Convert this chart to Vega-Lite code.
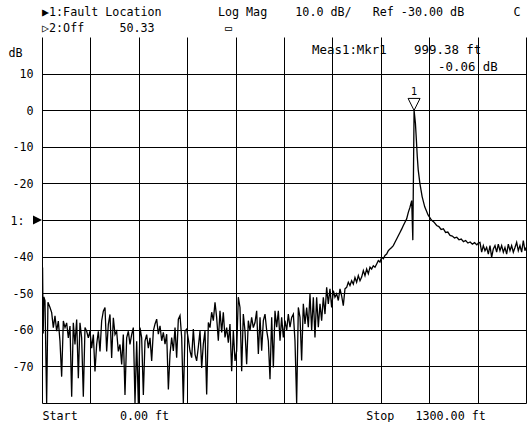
{
  "$schema": "https://vega.github.io/schema/vega-lite/v6.json",
  "width": 484,
  "height": 366,
  "autosize": {"type": "none"},
  "padding": {"left": 42, "top": 37, "right": 1, "bottom": 19},
  "background": "white",
  "config": {"view": {"stroke": null}, "font": "DejaVu Sans Mono"},
  "title": {
    "text": ["▶1:Fault\u00a0Location\u00a0\u00a0\u00a0\u00a0\u00a0\u00a0\u00a0\u00a0Log\u00a0Mag\u00a0\u00a0\u00a0\u00a010.0\u00a0dB/\u00a0\u00a0\u00a0Ref\u00a0-30.00\u00a0dB\u00a0\u00a0\u00a0\u00a0\u00a0\u00a0\u00a0C", "▷2:Off\u00a0\u00a0\u00a0\u00a0\u00a050.33\u00a0\u00a0\u00a0\u00a0\u00a0\u00a0\u00a0\u00a0\u00a0\u00a0▭"],
    "anchor": "start",
    "frame": "group",
    "font": "DejaVu Sans Mono",
    "fontSize": 11.7,
    "fontWeight": "normal",
    "color": "#000",
    "lineHeight": 16,
    "offset": 2
  },
  "datasets": {
    "trace": [
      {"ft":0,"db":-47},{"ft":1.5,"db":-43},{"ft":3.2,"db":-61},{"ft":5,"db":-51},{"ft":8,"db":-52},{"ft":12.5,"db":-80},{"ft":16,"db":-52.5},{"ft":21.5,"db":-53.9},{"ft":26,"db":-55.3},{"ft":30.4,"db":-59.4},{"ft":34.9,"db":-56.2},{"ft":39.4,"db":-60.4},{"ft":43.8,"db":-57.6},{"ft":48.3,"db":-63.1},{"ft":52.8,"db":-72.8},{"ft":57.3,"db":-57.6},{"ft":61.8,"db":-59.4},{"ft":66.2,"db":-58.1},{"ft":70.7,"db":-62.2},{"ft":75.2,"db":-59.0},{"ft":79.7,"db":-78.3},{"ft":84.1,"db":-58.1},{"ft":88.6,"db":-64.0},{"ft":93.1,"db":-57.2},{"ft":97.6,"db":-73.2},{"ft":102,"db":-58.1},{"ft":106.5,"db":-62.2},{"ft":111,"db":-78.3},{"ft":115.5,"db":-59.4},{"ft":120,"db":-60.4},{"ft":124.4,"db":-62.2},{"ft":128.9,"db":-60.4},{"ft":133.4,"db":-65.0},{"ft":137.9,"db":-61.3},{"ft":142.3,"db":-71.4},{"ft":146.8,"db":-64.0},{"ft":151.3,"db":-60.4},{"ft":155.8,"db":-65.9},{"ft":160.2,"db":-57.6},{"ft":164.7,"db":-54.9},{"ft":169.2,"db":-53.9},{"ft":173.7,"db":-65.9},{"ft":178.2,"db":-58.5},{"ft":182.6,"db":-55.8},{"ft":187.1,"db":-67.7},{"ft":191.6,"db":-56.7},{"ft":196.1,"db":-61.3},{"ft":200.5,"db":-60.4},{"ft":205,"db":-65.9},{"ft":209.5,"db":-64.0},{"ft":214,"db":-69.5},{"ft":218.4,"db":-61.3},{"ft":222.9,"db":-77.8},{"ft":227.4,"db":-62.2},{"ft":231.9,"db":-60.4},{"ft":236.3,"db":-64.0},{"ft":240.8,"db":-61.3},{"ft":245.3,"db":-59.4},{"ft":249.8,"db":-80},{"ft":254.3,"db":-63.1},{"ft":258.7,"db":-80},{"ft":263.2,"db":-59.4},{"ft":267.7,"db":-62.2},{"ft":272.2,"db":-77.8},{"ft":276.6,"db":-63.1},{"ft":281.1,"db":-61.3},{"ft":285.6,"db":-65.0},{"ft":290.1,"db":-62.2},
      {"ft":294.6,"db":-68.5},{"ft":299.1,"db":-60.3},{"ft":303.6,"db":-58.4},{"ft":308,"db":-57.1},{"ft":312.5,"db":-61.2},{"ft":317,"db":-58.9},{"ft":321.5,"db":-63.0},{"ft":325.9,"db":-60.7},{"ft":330.4,"db":-63.9},{"ft":334.9,"db":-61.2},{"ft":339.4,"db":-76.3},{"ft":343.8,"db":-66.7},{"ft":348.3,"db":-62.1},{"ft":352.8,"db":-65.8},{"ft":357.3,"db":-59.4},{"ft":361.7,"db":-67.6},{"ft":366.2,"db":-57.1},{"ft":370.7,"db":-56.1},{"ft":375.2,"db":-62.1},{"ft":379.6,"db":-80},{"ft":384.1,"db":-60.3},{"ft":388.6,"db":-59.8},{"ft":393.1,"db":-62.6},{"ft":397.5,"db":-65.8},{"ft":402,"db":-67.6},{"ft":406.5,"db":-59.8},{"ft":411,"db":-66.7},{"ft":415.4,"db":-68.5},{"ft":419.9,"db":-64.7},{"ft":424.4,"db":-60.3},{"ft":428.9,"db":-70.4},{"ft":433.3,"db":-63.9},{"ft":437.8,"db":-60.3},{"ft":442.3,"db":-77.7},{"ft":446.8,"db":-58.0},{"ft":451.2,"db":-59.4},{"ft":455.7,"db":-55.2},{"ft":460.2,"db":-57.5},{"ft":464.7,"db":-52.5},{"ft":469.1,"db":-56.6},{"ft":473.6,"db":-63.0},{"ft":478.1,"db":-54.8},{"ft":482.6,"db":-60.7},{"ft":487,"db":-55.2},{"ft":491.5,"db":-62.1},{"ft":496,"db":-59.4},{"ft":500.5,"db":-63.5},{"ft":504.9,"db":-58.4},{"ft":509.4,"db":-71.3},{"ft":513.9,"db":-60.3},{"ft":518.4,"db":-68.5},{"ft":522.8,"db":-65.8},{"ft":527.3,"db":-51.1},{"ft":531.8,"db":-53.9},{"ft":536.3,"db":-71.3},{"ft":540.7,"db":-55.7},{"ft":545.2,"db":-60.3},{"ft":549.7,"db":-69.4},{"ft":554.2,"db":-57.5},{"ft":558.6,"db":-60.3},{"ft":563.1,"db":-56.6},{"ft":567.6,"db":-59.4},{"ft":572.1,"db":-58.0},
      {"ft":576.6,"db":-54.8},{"ft":581.1,"db":-66.6},{"ft":585.6,"db":-56.6},{"ft":590,"db":-65.7},{"ft":594.5,"db":-57.5},{"ft":599,"db":-55.7},{"ft":603.5,"db":-60.2},{"ft":607.9,"db":-63.0},{"ft":612.4,"db":-73.5},{"ft":616.9,"db":-56.6},{"ft":621.4,"db":-70.3},{"ft":625.8,"db":-54.8},{"ft":630.3,"db":-59.3},{"ft":634.8,"db":-54.8},{"ft":639.3,"db":-63.0},{"ft":643.7,"db":-56.6},{"ft":648.2,"db":-62.1},{"ft":652.7,"db":-57.5},{"ft":657.2,"db":-60.2},{"ft":661.6,"db":-55.7},{"ft":666.1,"db":-59.3},{"ft":670.6,"db":-56.6},{"ft":675.1,"db":-55.7},{"ft":679.5,"db":-63.0},{"ft":684,"db":-80},{"ft":688.5,"db":-53.9},{"ft":693,"db":-56.6},{"ft":697.4,"db":-68.4},{"ft":701.9,"db":-52.9},{"ft":706.4,"db":-58.4},{"ft":710.9,"db":-53.9},{"ft":715.3,"db":-59.3},{"ft":719.8,"db":-50.2},{"ft":724.3,"db":-60.2},{"ft":728.8,"db":-51.1},{"ft":733.2,"db":-62.1},{"ft":737.7,"db":-51.1},{"ft":742.2,"db":-59.3},{"ft":746.7,"db":-52.9},{"ft":751.1,"db":-57.5},{"ft":755.6,"db":-51.1},{"ft":760.1,"db":-55.7},{"ft":764.6,"db":-48.4},{"ft":769,"db":-52.9},{"ft":773.5,"db":-48.8},{"ft":778,"db":-53.9},{"ft":782.5,"db":-49.3},{"ft":786.9,"db":-51.1},{"ft":791.4,"db":-50.2},{"ft":795.9,"db":-52},{"ft":800.4,"db":-48.8},{"ft":804.8,"db":-50.7},{"ft":809.3,"db":-53.4},{"ft":813.8,"db":-48.8},{"ft":818.3,"db":-48.4},{"ft":822.7,"db":-47.0},{"ft":827.2,"db":-47.9},{"ft":831.7,"db":-46.6},{"ft":836.2,"db":-47.5},{"ft":840.6,"db":-45.7},{"ft":845.1,"db":-47.0},{"ft":849.6,"db":-45.2},{"ft":854.1,"db":-46.6},
      {"ft":858.6,"db":-45.6},{"ft":863.1,"db":-43.8},{"ft":867.5,"db":-45.2},{"ft":872,"db":-43.4},{"ft":876.5,"db":-44.7},{"ft":881,"db":-42.9},{"ft":885.4,"db":-43.4},{"ft":889.9,"db":-42.5},{"ft":894.4,"db":-42.9},{"ft":898.9,"db":-42},{"ft":903.3,"db":-41.1},{"ft":907.8,"db":-41.5},{"ft":912.3,"db":-40.2},{"ft":916.8,"db":-40.6},{"ft":921.2,"db":-39.7},{"ft":925.7,"db":-39.3},{"ft":930.2,"db":-38.4},{"ft":934.7,"db":-37.9},{"ft":939.1,"db":-37.5},{"ft":943.6,"db":-37},{"ft":948.1,"db":-36.1},{"ft":952.6,"db":-35.2},{"ft":957,"db":-34.3},{"ft":961.5,"db":-33.4},{"ft":966,"db":-32.5},{"ft":970.5,"db":-31.5},{"ft":974.9,"db":-30.6},{"ft":979.4,"db":-29.7},{"ft":983.9,"db":-27.9},{"ft":988.4,"db":-26.5},{"ft":993,"db":-24.7},{"ft":996,"db":-35.5},{"ft":999.38,"db":-0.06},
      {"ft":1003,"db":-3.6},{"ft":1005.5,"db":-8},{"ft":1008,"db":-12.7},{"ft":1010.5,"db":-16.3},{"ft":1015,"db":-20},{"ft":1021,"db":-23.6},{"ft":1028,"db":-26.4},{"ft":1037,"db":-28.6},{"ft":1046,"db":-30},{"ft":1053,"db":-30.6},{"ft":1060,"db":-31.5},{"ft":1066,"db":-31.8},{"ft":1072,"db":-32.6},{"ft":1078,"db":-32.4},{"ft":1084,"db":-33.4},{"ft":1090,"db":-33.3},{"ft":1096,"db":-34.2},{"ft":1102,"db":-34.4},{"ft":1108,"db":-34.9},{"ft":1114,"db":-34.7},{"ft":1120,"db":-35.4},{"ft":1126,"db":-35.2},{"ft":1132,"db":-35.9},{"ft":1138,"db":-35.6},{"ft":1144,"db":-36.3},{"ft":1150,"db":-36},{"ft":1156,"db":-36.6},{"ft":1162,"db":-36.2},{"ft":1168,"db":-36.8},{"ft":1172,"db":-36.3},{"ft":1176.4,"db":-36.1},
      {"ft":1180.9,"db":-38.8},{"ft":1185.4,"db":-37.0},{"ft":1189.8,"db":-38.4},{"ft":1194.3,"db":-37.5},{"ft":1198.8,"db":-39.3},{"ft":1203.3,"db":-37.0},{"ft":1207.7,"db":-40.2},{"ft":1212.2,"db":-37.9},{"ft":1216.7,"db":-37.0},{"ft":1221.2,"db":-38.8},{"ft":1225.6,"db":-36.6},{"ft":1230.1,"db":-38.4},{"ft":1234.6,"db":-37.0},{"ft":1239.1,"db":-38.8},{"ft":1243.5,"db":-37.5},{"ft":1248,"db":-39.3},{"ft":1252.5,"db":-36.6},{"ft":1257,"db":-38.4},{"ft":1261.4,"db":-37.0},{"ft":1265.9,"db":-38.8},{"ft":1270.4,"db":-37.5},{"ft":1274.9,"db":-36.1},{"ft":1279.3,"db":-38.4},{"ft":1283.8,"db":-37.0},{"ft":1288.3,"db":-38.8},{"ft":1292.8,"db":-35.6},{"ft":1297.2,"db":-38.4},{"ft":1300,"db":-37.5}
    ],
    "marker": [{"ft": 999.38, "db": -0.06, "name": "1"}],
    "reflevel": [{"ft": 0, "db": -30}]
  },
  "layer": [
    {
      "data": {"name": "trace"},
      "mark": {"type": "line", "color": "#000", "strokeWidth": 1.3, "clip": true},
      "encoding": {
        "x": {
          "field": "ft", "type": "quantitative",
          "scale": {"domain": [0, 1300], "nice": false, "zero": false},
          "axis": {
            "values": [0, 130, 260, 390, 520, 650, 780, 910, 1040, 1170, 1300],
            "labels": false, "ticks": false, "domain": false,
            "grid": true, "gridColor": "#000", "gridOpacity": 1, "gridWidth": 1,
            "title": "Start\u00a0\u00a0\u00a0\u00a0\u00a0\u00a00.00\u00a0ft\u00a0\u00a0\u00a0\u00a0\u00a0\u00a0\u00a0\u00a0\u00a0\u00a0\u00a0\u00a0\u00a0\u00a0\u00a0\u00a0\u00a0\u00a0\u00a0\u00a0\u00a0\u00a0\u00a0\u00a0\u00a0\u00a0\u00a0\u00a0Stop\u00a0\u00a0\u00a01300.00\u00a0ft",
            "titleAnchor": "start", "titleAlign": "left", "titleX": 0, "titleY": 16,
            "titleBaseline": "alphabetic", "titleFont": "DejaVu Sans Mono", "titleFontSize": 11.7,
            "titleFontWeight": "normal", "titleColor": "#000"
          }
        },
        "y": {
          "field": "db", "type": "quantitative",
          "scale": {"domain": [-80, 20], "nice": false, "zero": false},
          "axis": {
            "values": [-80, -70, -60, -50, -40, -30, -20, -10, 0, 10],
            "labelExpr": "datum.value == -80 ? '' : (datum.value == -30 ? '1:\u2800' : ('' + datum.value))",
            "labelPadding": 9, "labelFont": "DejaVu Sans Mono", "labelFontSize": 11.7, "labelColor": "#000",
            "labelBound": false, "labelOverlap": false, "labelFlush": false,
            "ticks": false, "domain": false,
            "grid": true, "gridColor": "#000", "gridOpacity": 1, "gridWidth": 1,
            "title": "dB", "titleAngle": 0, "titleX": -34, "titleY": 15, "titleAlign": "left",
            "titleBaseline": "middle", "titleFont": "DejaVu Sans Mono", "titleFontSize": 11.7,
            "titleFontWeight": "normal", "titleColor": "#000"
          }
        }
      }
    },
    {
      "data": {"name": "reflevel"},
      "mark": {"type": "point", "shape": "M-2,-1L0,0L-2,1Z", "size": 81, "filled": true, "fill": "#000", "stroke": null, "opacity": 1, "clip": false},
      "encoding": {
        "x": {"field": "ft", "type": "quantitative"},
        "y": {"field": "db", "type": "quantitative"}
      }
    },
    {
      "data": {"name": "marker"},
      "mark": {"type": "point", "shape": "M-1,-2L1,-2L0,0Z", "size": 144, "filled": false, "stroke": "#000", "strokeWidth": 1, "opacity": 1},
      "encoding": {
        "x": {"field": "ft", "type": "quantitative"},
        "y": {"field": "db", "type": "quantitative"}
      }
    },
    {
      "data": {"name": "marker"},
      "mark": {"type": "text", "dy": -13, "baseline": "bottom", "fontSize": 10, "font": "DejaVu Sans", "color": "#000"},
      "encoding": {
        "x": {"field": "ft", "type": "quantitative"},
        "y": {"field": "db", "type": "quantitative"},
        "text": {"field": "name"}
      }
    },
    {
      "data": {"name": "marker"},
      "mark": {
        "type": "text", "align": "left", "baseline": "alphabetic", "dx": -102, "dy": 17,
        "fontSize": 12.4, "font": "DejaVu Sans Mono", "color": "#000",
        "text": "Meas1:Mkr1"
      },
      "encoding": {
        "x": {"field": "ft", "type": "quantitative"},
        "y": {"datum": 20}
      }
    },
    {
      "data": {"name": "marker"},
      "mark": {
        "type": "text", "align": "left", "baseline": "alphabetic", "dx": 0, "dy": 17,
        "fontSize": 12.4, "font": "DejaVu Sans Mono", "color": "#000",
        "text": "999.38\u00a0ft"
      },
      "encoding": {
        "x": {"field": "ft", "type": "quantitative"},
        "y": {"datum": 20}
      }
    },
    {
      "data": {"name": "marker"},
      "mark": {
        "type": "text", "align": "left", "baseline": "alphabetic", "dx": 24, "dy": 34,
        "fontSize": 12.4, "font": "DejaVu Sans Mono", "color": "#000",
        "text": "-0.06\u00a0dB"
      },
      "encoding": {
        "x": {"field": "ft", "type": "quantitative"},
        "y": {"datum": 20}
      }
    }
  ]
}
